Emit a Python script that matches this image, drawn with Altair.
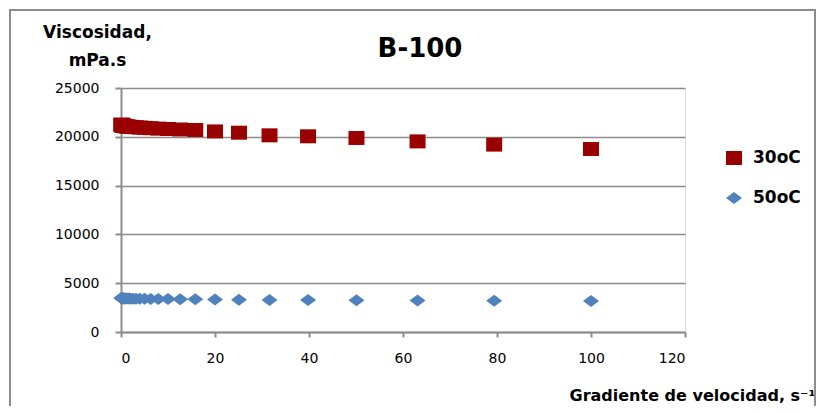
import altair as alt
import pandas as pd

rates = [0.1, 0.126, 0.158, 0.2, 0.251, 0.316, 0.398, 0.501, 0.631, 0.794,
         1.0, 1.26, 1.58, 2.0, 2.51, 3.16, 3.98, 5.01, 6.31, 7.94,
         10.0, 12.6, 15.8, 20.0, 25.1, 31.6, 39.8, 50.1, 63.1, 79.4, 100.0]
visc_30 = [21250, 21230, 21210, 21200, 21180, 21170, 21150, 21140, 21120, 21100,
           21080, 21060, 21040, 21020, 21000, 20980, 20950, 20920, 20880, 20840,
           20800, 20750, 20700, 20550, 20420, 20150, 20050, 19880, 19530, 19200, 18750]
visc_50 = [3480, 3475, 3470, 3465, 3460, 3455, 3450, 3445, 3440, 3435,
           3430, 3425, 3420, 3415, 3410, 3405, 3400, 3395, 3390, 3380,
           3370, 3360, 3350, 3330, 3310, 3290, 3270, 3250, 3230, 3210, 3180]
series = ["30oC", "50oC"]
colors = ["#990000", "#4F81BD"]
x_ticks = [0, 20, 40, 60, 80, 100, 120]
y_ticks = [0, 5000, 10000, 15000, 20000, 25000]
chart_title = ["B-100"]

df = pd.concat([
    pd.DataFrame({"rate": rates, "visc": visc_30, "serie": series[0]}),
    pd.DataFrame({"rate": rates, "visc": visc_50, "serie": series[1]}),
])

FONT = "DejaVu Sans"
GRAY = "#8c8c8c"

square = "M-1,-0.875L1,-0.875L1,0.875L-1,0.875Z"
diamond = "M-1,0L0,-0.75L1,0L0,0.75Z"

points = alt.Chart(df).mark_point(filled=True, opacity=1, size=256).encode(
    x=alt.X("rate:Q", scale=alt.Scale(domain=[0, 120], nice=False),
            axis=alt.Axis(values=x_ticks, grid=False, title="Gradiente de velocidad, s⁻¹",
                          titleX=694, titleY=68, titleAlign="right", titleBaseline="alphabetic",
                          titleFontSize=16, titleFontWeight="bold", titleFont=FONT,
                          labelFontSize=14, labelFont=FONT, labelPadding=14,
                          tickSize=5, tickColor=GRAY, domainColor=GRAY, domainWidth=2, tickWidth=2)),
    y=alt.Y("visc:Q", scale=alt.Scale(domain=[0, 25000], nice=False),
            axis=alt.Axis(values=y_ticks, grid=True, gridColor=GRAY, gridWidth=1.5, format="d",
                          title=["Viscosidad,", "mPa.s"], titleAngle=0,
                          titleX=-24, titleY=-51, titleAlign="center", titleBaseline="alphabetic",
                          titleLineHeight=28, titleFontSize=17, titleFontWeight="bold", titleFont=FONT,
                          labelFontSize=14, labelFont=FONT, labelPadding=16,
                          tickSize=6, tickColor=GRAY, domainColor=GRAY, domainWidth=2, tickWidth=2)),
    color=alt.Color("serie:N", scale=alt.Scale(domain=series, range=colors),
                    legend=alt.Legend(title=None, orient="none", legendX=604, legendY=61,
                                      symbolSize=256, labelFontSize=17, labelFontWeight="bold",
                                      labelFont=FONT, rowPadding=23, labelOffset=10, padding=0,
                                      symbolOpacity=1)),
    shape=alt.Shape("serie:N", scale=alt.Scale(domain=series, range=[square, diamond]), legend=None),
)

frame = alt.Chart(pd.DataFrame({"a": [0]})).mark_rect(fill=None, stroke=GRAY, strokeWidth=2).encode(
    x=alt.value(-111), x2=alt.value(694), y=alt.value(-78), y2=alt.value(420)
)

title = alt.Chart(pd.DataFrame({"t": chart_title})).mark_text(
    fontSize=26, fontWeight="bold", font=FONT, align="center", baseline="alphabetic", color="black"
).encode(text="t:N", x=alt.value(299), y=alt.value(-31))

chart = alt.layer(frame, points, title).properties(
    width=564, height=244,
    autosize=alt.AutoSizeParams(type="none"),
    padding={"left": 113, "top": 80, "right": 131, "bottom": 74},
).configure_view(stroke=None).configure(background="white")

chart.save("out.html", embed_options={"renderer": "svg", "actions": False})
